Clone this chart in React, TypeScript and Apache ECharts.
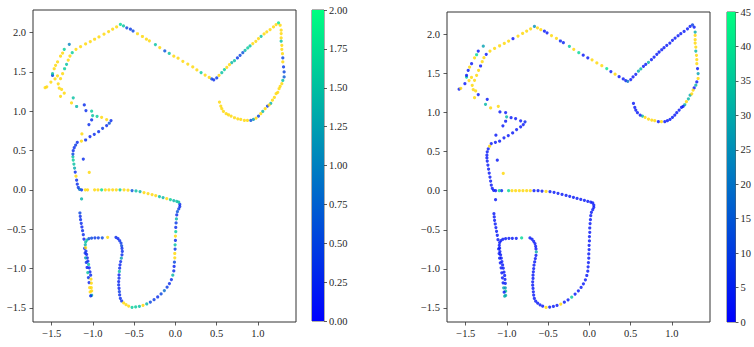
import React, { useEffect, useRef } from "react";
import * as echarts from "echarts";

// ---- data (x, y) per trajectory segment, with the colour value ----
const legInnerXY = [[-1.016,-1.34],[-1.016,-1.285],[-1.02,-1.243],[-1.02,-1.187],[-1.024,-1.136],[-1.028,-1.085],[-1.036,-1.043],[-1.045,-0.991],[-1.053,-0.949],[-1.061,-0.906],[-1.069,-0.864],[-1.077,-0.821],[-1.085,-0.779],[-1.089,-0.736],[-1.093,-0.698],[-1.089,-0.664],[-1.073,-0.638],[-1.049,-0.621],[-1.016,-0.613],[-0.976,-0.609],[-0.935,-0.609],[-0.887,-0.609],[-0.822,-0.604]];
const legInnerL = [1.3,2.4,2.4,2.4,2.4,0.3,0.2,0.2,1.5,0.3,0.2,0.2,0.3,2.4,1.4,1.5,1.5,0.6,0.5,0.4,0.4,0.5,2.4];
const legInnerR = [30,35,25,5,3,3,3,3,3,3,3,3,3,3,3,3,3,3,3,3,3,3,38];

const legOuterXY = [[-1.158,-0.294],[-1.154,-0.336],[-1.15,-0.379],[-1.142,-0.426],[-1.134,-0.472],[-1.126,-0.519],[-1.117,-0.57],[-1.109,-0.626],[-1.101,-0.745],[-1.095,-0.804],[-1.089,-0.864],[-1.081,-0.923],[-1.071,-0.987],[-1.063,-1.051],[-1.055,-1.115],[-1.047,-1.179],[-1.04,-1.243],[-1.034,-1.298],[-1.028,-1.349]];
const legOuterL = [0.5,0.3,0.3,0.3,0.2,0.3,0.3,0.2,0.2,0.3,1.2,0.3,0.2,1.5,0.3,0.2,2.4,2.4,0.3];
const legOuterR = [3,3,3,3,3,3,3,3,3,3,3,3,3,3,3,3,28,3,30];

const looseXY = [[-1.138,-0.115],[-1.016,0.889],[-1.049,0.83],[-1.134,0.711],[-1.117,0.391],[-1.045,0.221]];
const looseL = [1.4,0.3,0.3,2.4,0.3,2.4];
const looseR = [3,3,3,3,3,50];

const loopXY = [[-0.721,-0.604],[-0.696,-0.621],[-0.676,-0.647],[-0.66,-0.677],[-0.652,-0.711],[-0.648,-0.745],[-0.644,-0.783],[-0.648,-0.826],[-0.656,-0.868],[-0.664,-0.911],
[-0.672,-0.953],[-0.676,-0.996],[-0.68,-1.038],[-0.684,-1.081],[-0.684,-1.123],[-0.688,-1.166],[-0.688,-1.209],[-0.684,-1.251],[-0.68,-1.294],[-0.676,-1.336],
[-0.668,-1.379],[-0.652,-1.413],[-0.628,-1.438],[-0.599,-1.46],[-0.567,-1.477],[-0.526,-1.494],[-0.482,-1.489],[-0.437,-1.481],[-0.393,-1.468],[-0.348,-1.451],
[-0.304,-1.426],[-0.259,-1.396],[-0.215,-1.362],[-0.174,-1.323],[-0.134,-1.281],[-0.101,-1.238],[-0.073,-1.191],[-0.049,-1.14],[-0.032,-1.085],[-0.02,-1.03],
[-0.016,-0.974],[-0.012,-0.919],[-0.008,-0.864],[-0.008,-0.809],[-0.004,-0.753],[-0.004,-0.698],[0,-0.643],[0,-0.587],[0.004,-0.532],[0.004,-0.477],
[0.008,-0.421],[0.012,-0.37],[0.016,-0.319],[0.024,-0.277],[0.04,-0.243],[0.053,-0.213],[0.053,-0.183],[0.04,-0.157],[0.016,-0.145],[-0.02,-0.136],
[-0.061,-0.123],[-0.105,-0.111],[-0.15,-0.098],[-0.194,-0.085],[-0.239,-0.072],[-0.283,-0.06],[-0.332,-0.047],[-0.381,-0.034],[-0.429,-0.021],[-0.478,-0.013],
[-0.526,-0.009],[-0.575,-0.004],[-0.623,0],[-0.672,0],[-0.717,0],[-0.761,0],[-0.806,0],[-0.85,0],[-0.895,0],[-0.939,0],
[-0.98,0],[-1.065,0],[-1.093,0],[-1.138,0],[-1.162,0.005]];
const loopL = [0.3,0.2,0.3,0.4,0.5,0.3,0.3,0.3,1.2,0.3,0.2,0.3,1.4,0.2,0.3,0.2,0.3,0.2,0.4,0.3,0.3,
0.3,2.4,2.4,2.4,1.6,1.6,1.5,2.4,1.4,0.5,0.4,0.3,0.5,0.8,0.4,0.3,
0.3,1.4,0.3,0.2,0.5,2.4,2.4,0.4,1.5,0.3,2.4,1.6,0.3,0.4,1.4,0.3,0.6,0.4,0.3,0.3,
1.5,1.5,1.4,1.6,2.4,1.4,1.5,2.4,2.4,2.4,2.4,1.4,1.5,0.6,2.4,2.4,1.6,2.4,2.4,2.4,2.4,1.7,2.4,2.4,2.4,2.4,0.3,0.9];
const loopR = [3,3,3,3,3,3,30,3,3,3, 3,3,3,3,3,3,3,3,3,3, 3,3,3,3,3,50,3,3,3,50, 3,3,35,3,3,3,3,3,3,3,
3,3,3,3,3,3,3,3,3,3, 3,3,3,3,3,3,3,3,3,3, 3,3,3,3,3,3,3,3,3,3, 50,3,3,3,50,50,50,50,50,50, 38,5,36,3,3];

const sideXY = [[-1.178,0.03],[-1.19,0.072],[-1.198,0.123],[-1.206,0.174],[-1.215,0.226],[-1.223,0.277],[-1.231,0.328],[-1.239,0.379],[-1.243,0.42],[-1.243,0.455],[-1.239,0.498],[-1.227,0.536],[-1.21,0.57],[-1.19,0.604],[-1.14,0.62],[-1.089,0.634],[-1.036,0.677],[-0.984,0.706],[-0.931,0.74],[-0.883,0.783],[-0.834,0.817],[-0.802,0.847],[-0.781,0.881]];
const sideL = [0.4,0.3,0.3,2.4,0.3,1.3,1.5,1.6,1.5,0.5,0.3,0.3,0.4,0.3,2.4,0.3,0.2,0.3,0.3,0.4,0.3,0.6,0.3];
const sideR = [3,3,3,3,3,3,3,3,3,3,3,3,50,3,3,3,3,3,3,3,3,3,5];

const zigXY = [[-0.834,0.894],[-0.895,0.923],[-0.95,0.935],[-1.004,0.945],[-1.016,1.0],[-1.085,1.008],[-1.105,1.08],[-1.198,1.06],[-1.26,1.106],[-1.239,1.17],[-1.348,1.23],[-1.393,1.19],[-1.38,1.277],[-1.409,1.294],[-1.46,1.41],[-1.43,1.45],[-1.51,1.37],[-1.56,1.31],[-1.58,1.3]];
const zigL = [2.4,2.4,1.6,1.5,1.6,0.3,0.3,1.4,2.4,1.5,2.4,2.4,2.4,2.4,2.4,2.4,2.4,2.4,2.4];
const zigR = [3,3,3,32,3,3,50,50,32,3,3,50,50,50,50,50,3,50,3];

const outerUpXY = [[-1.49,1.455],[-1.49,1.477],[-1.47,1.54],[-1.453,1.583],[-1.429,1.626],[-1.393,1.7],[-1.368,1.74],[-1.348,1.787],[-1.287,1.85]];
const outerUpL = [0.4,1.5,2.4,2.4,2.4,2.4,2.4,1.6,1.0];
const outerUpR = [36,3,3,50,3,50,38,3,28];

const innerDownXY = [[-0.713,2.072],[-0.761,2.043],[-0.81,2.013],[-0.866,1.979],[-0.927,1.945],[-0.98,1.915],[-1.032,1.885],[-1.089,1.855],[-1.15,1.821],[-1.206,1.787],[-1.251,1.745],[-1.279,1.702],[-1.3,1.651],[-1.32,1.596],[-1.344,1.54],[-1.368,1.477],[-1.393,1.413],[-1.421,1.349]];
const innerDownL = [2.4,2.4,2.4,2.4,2.4,2.4,2.4,2.4,2.4,2.4,1.6,2.4,2.4,1.5,1.6,2.4,2.4,2.4];
const innerDownR = [50,50,50,50,3,50,50,50,50,50,3,50,50,3,50,50,50,50];

const topLineXY = [[-0.667,2.103],[-0.63,2.085],[-0.59,2.06],[-0.546,2.043],[-0.514,2.02],[-0.46,1.985],[-0.4,1.95],[-0.352,1.916],[-0.316,1.895],[-0.243,1.848],[-0.19,1.81],[-0.129,1.767],[-0.075,1.735],[-0.02,1.7],[0.032,1.675],[0.09,1.635],[0.15,1.6],[0.21,1.563],[0.26,1.525],[0.311,1.491],[0.36,1.46],[0.41,1.43],[0.44,1.41],[0.465,1.4]];
const topLineL = [1.7,1.5,0.5,0.4,0.5,2.4,2.4,2.4,2.4,1.5,2.4,0.6,1.5,2.4,2.4,2.4,2.4,2.4,2.4,1.6,2.4,2.4,0.5,0.3];
const topLineR = [25,50,50,3,3,50,50,5,5,35,50,38,3,3,50,50,50,40,3,50,3,3,3,20];

const riseXY = [[0.501,1.423],[0.529,1.456],[0.562,1.49],[0.594,1.529],[0.623,1.558],[0.655,1.592],[0.683,1.618],[0.716,1.643],[0.752,1.677],[0.784,1.711],[0.817,1.745],[0.845,1.775],[0.877,1.804],[0.905,1.83],[0.938,1.86],[0.975,1.889],[1.007,1.924],[1.039,1.953],[1.075,1.983],[1.108,2.009],[1.148,2.038],[1.189,2.072],[1.221,2.102],[1.25,2.123]];
const riseL = [0.4,2.4,1.5,1.6,2.4,2.4,1.4,1.5,0.4,0.5,0.6,1.4,1.6,1.5,2.4,2.4,2.4,1.5,2.4,2.4,2.4,2.4,2.4,1.8];
const riseR = [3,3,3,30,32,3,3,30,3,3,3,3,3,3,3,3,3,3,3,3,3,3,3,10];

const rightLoopXY = [[1.27,2.093],[1.282,2.03],[1.282,1.987],[1.282,1.932],[1.282,1.89],[1.29,1.838],[1.29,1.787],[1.298,1.732],[1.302,1.677],[1.302,1.626],[1.311,1.563],[1.318,1.499],[1.318,1.436],[1.302,1.392],[1.29,1.35],[1.27,1.316],[1.257,1.287],[1.241,1.24],[1.221,1.223],[1.2,1.176],[1.176,1.14],[1.156,1.1],[1.136,1.079],[1.116,1.066],[1.088,1.032],[1.059,0.998],[1.035,0.968],[1.007,0.939],[0.978,0.913],[0.946,0.896],[0.914,0.883],[0.873,0.883],[0.836,0.883],[0.792,0.896],[0.756,0.904],[0.716,0.917],[0.675,0.939],[0.643,0.955],[0.615,0.968],[0.582,0.998],[0.562,1.032],[0.55,1.066],[0.534,1.117]];
const rightLoopL = [2.4,2.4,2.4,2.4,1.5,2.4,2.4,2.4,0.5,2.4,0.4,0.5,0.7,1.5,2.4,2.4,2.4,2.4,2.4,2.4,2.4,1.4,2.4,0.4,2.4,1.4,2.4,0.5,2.4,1.2,0.6,2.4,2.4,2.4,2.4,2.4,2.4,2.4,2.4,2.4,2.4,2.4,2.4];
const rightLoopR = [3,30,50,50,50,50,32,50,50,50,3,28,50,3,30,3,50,50,30,32,50,30,3,3,3,3,3,3,3,3,3,50,3,50,50,50,50,32,3,3,3,3,3];

const xTicks = [-1.5, -1, -0.5, 0, 0.5, 1];
const yTicks = [-1.5, -1, -0.5, 0, 0.5, 1, 1.5, 2];
const leftScaleMax = 2;
const rightScaleMax = 45;

const segments: [number[][], number[], number[]][] = [
  [legInnerXY, legInnerL, legInnerR],
  [legOuterXY, legOuterL, legOuterR],
  [looseXY, looseL, looseR],
  [loopXY, loopL, loopR],
  [sideXY, sideL, sideR],
  [zigXY, zigL, zigR],
  [outerUpXY, outerUpL, outerUpR],
  [innerDownXY, innerDownL, innerDownR],
  [topLineXY, topLineL, topLineR],
  [riseXY, riseL, riseR],
  [rightLoopXY, rightLoopL, rightLoopR],
];

// split each panel into in-range points (coloured by the colour map) and over-range points (gold)
const leftIn: number[][] = [];
const leftOver: number[][] = [];
const rightIn: number[][] = [];
const rightOver: number[][] = [];
segments.forEach(([xy, l, r]) => {
  xy.forEach((p, i) => {
    (l[i] > leftScaleMax ? leftOver : leftIn).push([p[0], p[1], l[i]]);
    (r[i] > rightScaleMax ? rightOver : rightIn).push([p[0], p[1], r[i]]);
  });
});

const FONT = "Liberation Serif";
const TXT = "#262626";
const LINE = "#333333";
const OVER = "#ffd700";
const fmt1 = (v: number) => (v < 0 ? "\u2212" : "") + Math.abs(v).toFixed(1);

function plotX(gridIndex: number) {
  return {
    type: "value", gridIndex, min: -1.727, max: 1.462,
    splitLine: { show: false }, axisLine: { show: false, onZero: false },
    axisTick: { show: true, inside: false, length: 3.5, customValues: xTicks, lineStyle: { color: LINE, width: 0.8 } },
    axisLabel: { customValues: xTicks, formatter: fmt1, margin: 6, fontFamily: FONT, fontSize: 10.5, color: TXT },
  };
}
function plotY(gridIndex: number) {
  return {
    type: "value", gridIndex, min: -1.68, max: 2.287,
    splitLine: { show: false }, axisLine: { show: false, onZero: false },
    axisTick: { show: true, inside: false, length: 3.5, customValues: yTicks, lineStyle: { color: LINE, width: 0.8 } },
    axisLabel: { customValues: yTicks, formatter: fmt1, margin: 7, fontFamily: FONT, fontSize: 10.5, color: TXT },
  };
}
function cbarX(gridIndex: number) {
  return { type: "category", gridIndex, data: ["c"], show: false, boundaryGap: true };
}
function cbarY(gridIndex: number, max: number, interval: number, digits: number) {
  return {
    type: "value", gridIndex, min: 0, max, interval, position: "right",
    splitLine: { show: false }, axisLine: { show: false, onZero: false },
    axisTick: { show: true, inside: false, length: 3, lineStyle: { color: LINE, width: 0.8 } },
    axisLabel: { formatter: (v: number) => v.toFixed(digits), margin: 5, fontFamily: FONT, fontSize: 10.5, color: TXT },
  };
}
const winter = () =>
  new echarts.graphic.LinearGradient(0, 1, 0, 0, [
    { offset: 0, color: "#0000ff" },
    { offset: 1, color: "#00ff80" },
  ]);

export default function App() {
  const ref = useRef<HTMLDivElement>(null);
  useEffect(() => {
    if (!ref.current) return;
    const chart = echarts.init(ref.current, null, { renderer: "svg" });
    const gridBase = { show: true, borderColor: LINE, borderWidth: 1, backgroundColor: "transparent", containLabel: false };
    const dot = { symbolSize: 3.2, silent: true };
    chart.setOption({
      animation: false,
      backgroundColor: "#ffffff",
      textStyle: { fontFamily: FONT },
      grid: [
        { ...gridBase, left: 33, top: 10, width: 263, height: 312 },
        { ...gridBase, borderWidth: 0.8, left: 312, top: 10, width: 12, height: 311 },
        { ...gridBase, left: 447, top: 12, width: 263, height: 310 },
        { ...gridBase, borderWidth: 0.8, left: 727, top: 12, width: 12, height: 310 },
      ],
      xAxis: [plotX(0), cbarX(1), plotX(2), cbarX(3)],
      yAxis: [plotY(0), cbarY(1, leftScaleMax, 0.25, 2), plotY(2), cbarY(3, rightScaleMax, 5, 0)],
      visualMap: [
        { type: "continuous", show: false, seriesIndex: 0, dimension: 2, min: 0, max: leftScaleMax,
          inRange: { color: ["#0000ff", "#00ff80"] } },
        { type: "continuous", show: false, seriesIndex: 2, dimension: 2, min: 0, max: rightScaleMax,
          inRange: { color: ["#0000ff", "#00ff80"] } },
      ],
      series: [
        { type: "scatter", xAxisIndex: 0, yAxisIndex: 0, data: leftIn, ...dot },
        { type: "scatter", xAxisIndex: 0, yAxisIndex: 0, data: leftOver, itemStyle: { color: OVER }, ...dot },
        { type: "scatter", xAxisIndex: 2, yAxisIndex: 2, data: rightIn, ...dot },
        { type: "scatter", xAxisIndex: 2, yAxisIndex: 2, data: rightOver, itemStyle: { color: OVER }, ...dot },
        { type: "bar", xAxisIndex: 1, yAxisIndex: 1, data: [leftScaleMax], barWidth: "100%", itemStyle: { color: winter() }, silent: true },
        { type: "bar", xAxisIndex: 3, yAxisIndex: 3, data: [rightScaleMax], barWidth: "100%", itemStyle: { color: winter() }, silent: true },
      ],
    });
    return () => chart.dispose();
  }, []);
  return (
    <div
      ref={ref}
      style={{ position: "absolute", left: 0, top: 0, width: 754, height: 347, background: "#fff" }}
    />
  );
}
